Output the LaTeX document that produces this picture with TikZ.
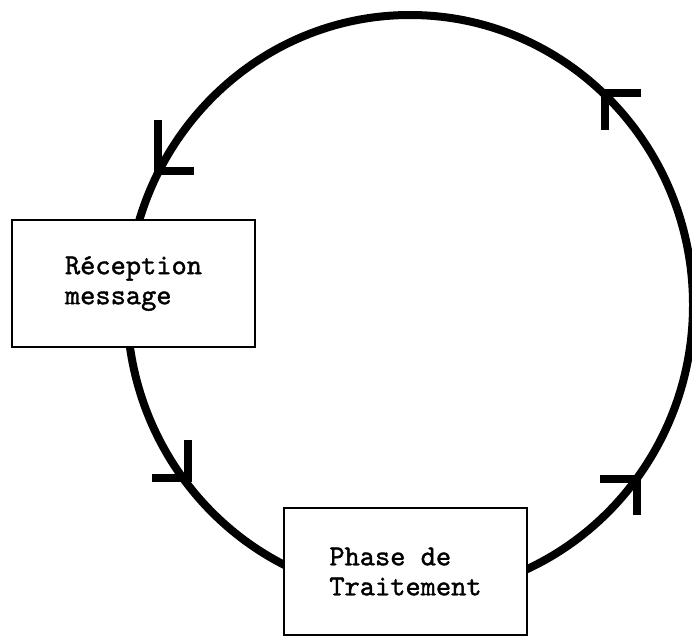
\documentclass[tikz,border=0pt]{standalone}
\usepackage{fontspec}
\newfontfamily\typew{lmmono10-regular.otf}[FakeBold=1.3]
\begin{document}
\begin{tikzpicture}[x=1pt,y=-1pt,
  cycleline/.style={line width=8pt},
  headmark/.style={line width=7.5pt, line join=miter, line cap=butt},
  stagebox/.style={draw, line width=1.8pt, fill=white,
    minimum width=243pt, minimum height=127pt, inner sep=0pt,
    align=left, font=\typew\fontsize{29}{30}\selectfont}]
\useasboundingbox (0,0) rectangle (692,637);
% the processing cycle
\coordinate (c) at (410,305);
\draw[cycleline] (c) ellipse [x radius=283, y radius=290];
% direction marks along the cycle (counter-clockwise)
\draw[headmark] (641,93) -- (605,93) -- (605,130);
\draw[headmark] (158,120) -- (158,171) -- (194,171);
\draw[headmark] (152,478) -- (188,478) -- (188,440);
\draw[headmark] (600,479) -- (637,479) -- (637,515);
% stages
\node[stagebox] (rec) at (133.5,283.5) {Réception\\message};
\node[stagebox] (phase) at (405.5,571.5) {Phase de\\Traitement};
\end{tikzpicture}
\end{document}
